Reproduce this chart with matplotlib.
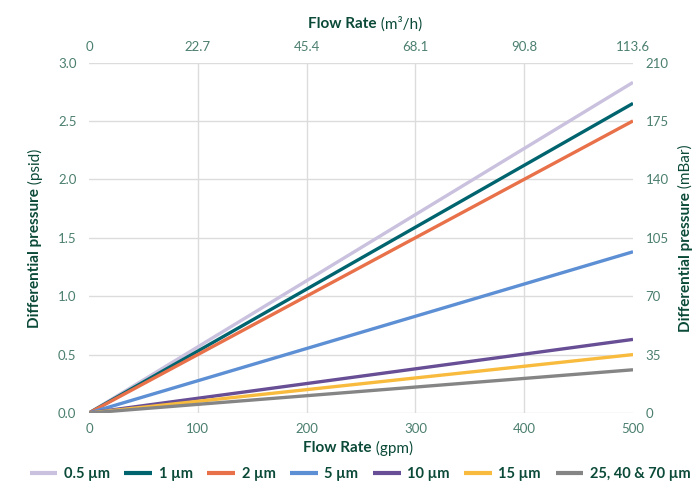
import matplotlib
matplotlib.use('Agg')
from matplotlib import pyplot as plt

# flow rate (gpm) and differential pressure (psid) at the end points
flow_gpm = [0, 500]
series_names = ['0.5 µm', '1 µm', '2 µm', '5 µm', '10 µm', '15 µm', '25, 40 & 70 µm']
series_psid = [
    [0, 2.83],
    [0, 2.65],
    [0, 2.50],
    [0, 1.38],
    [0, 0.63],
    [0, 0.50],
    [0, 0.37],
]
series_colors = ['#c9c1de', '#00646f', '#e8714a', '#5d8fd4', '#674e95', '#f8bb3d', '#858585']

left_ticks = [0.0, 0.5, 1.0, 1.5, 2.0, 2.5, 3.0]
right_ticks = [0, 35, 70, 105, 140, 175, 210]
bottom_ticks = [0, 100, 200, 300, 400, 500]
top_labels = ['0', '22.7', '45.4', '68.1', '90.8', '113.6']

TITLE_COLOR = '#0b4a38'
TICK_COLOR = '#4b7f6f'
GRID_COLOR = '#dcdcdc'

plt.rcParams['font.family'] = ['Lato', 'DejaVu Sans']

W, H = 699, 495
fig = plt.figure(figsize=(W / 100, H / 100), dpi=100)
ax = fig.add_axes((89 / W, 1 - 413 / H, 544 / W, 350.5 / H))

for name, vals, color in zip(series_names, series_psid, series_colors):
    ax.plot(flow_gpm, vals, color=color, lw=2.4, label=name, solid_capstyle='butt', zorder=3)

ax.set_xlim(0, 500)
ax.set_ylim(0, 3.0)
ax.set_xticks(bottom_ticks)
ax.set_yticks(left_ticks)
ax.set_yticklabels([f'{v:.1f}' for v in left_ticks])
ax.grid(True, color=GRID_COLOR, lw=1.0)
# no vertical gridline at the two ends of the flow axis
xgrid = ax.get_xgridlines()
xgrid[0].set_visible(False)
xgrid[-1].set_visible(False)
for s in ax.spines.values():
    s.set_visible(False)
ax.tick_params(axis='both', length=0, colors=TICK_COLOR, labelsize=9.5)
ax.tick_params(axis='x', pad=7)
ax.tick_params(axis='y', pad=9)

# right axis in mBar
axr = ax.twinx()
axr.set_ylim(0, 210)
axr.set_yticks(right_ticks)
for s in axr.spines.values():
    s.set_visible(False)
axr.tick_params(axis='y', length=0, colors=TICK_COLOR, labelsize=9.5, pad=9)

# top axis in m3/h
axt = ax.twiny()
axt.set_xlim(ax.get_xlim())
axt.set_xticks(bottom_ticks)
axt.set_xticklabels(top_labels)
for s in axt.spines.values():
    s.set_visible(False)
axt.tick_params(axis='x', length=0, colors=TICK_COLOR, labelsize=9.5, pad=7)


def mixed_label(x, y, bold, normal, rotation=0, size=11):
    """Bold + regular text side by side, centred on (x, y) in pixels."""
    r = fig.canvas.get_renderer()
    kw = dict(color=TITLE_COLOR, fontsize=size, rotation=rotation)
    t1 = fig.text(0, 0, bold, weight='bold', **kw)
    t2 = fig.text(0, 0, ' ' + normal, **kw)
    e1, e2 = t1.get_window_extent(r), t2.get_window_extent(r)
    if rotation == 0:
        x0 = x - (e1.width + e2.width) / 2
        t1.set(position=(x0 / W, y / H), ha='left', va='center')
        t2.set(position=((x0 + e1.width) / W, y / H), ha='left', va='center')
    else:
        y0 = y - (e1.height + e2.height) / 2
        t1.set(position=(x / W, y0 / H), ha='center', va='bottom')
        t2.set(position=(x / W, (y0 + e1.height) / H), ha='center', va='bottom')


mixed_label(365, H - 24, 'Flow Rate', '(m³/h)')
mixed_label(358, H - 448, 'Flow Rate', '(gpm)')
mixed_label(35, H - 238, 'Differential pressure', '(psid)', rotation=90)
mixed_label(686, H - 238, 'Differential pressure', '(mBar)', rotation=90)

leg = fig.legend(loc='center', bbox_to_anchor=(360 / W, 1 - 474 / H), ncol=7, frameon=False,
                 handlelength=1.9, handletextpad=0.45, columnspacing=1.0,
                 prop=dict(weight='bold', size=10.5))
for t in leg.get_texts():
    t.set_color(TITLE_COLOR)
for h in leg.legend_handles:
    h.set_linewidth(3)

fig.savefig('out.png', dpi=100)
